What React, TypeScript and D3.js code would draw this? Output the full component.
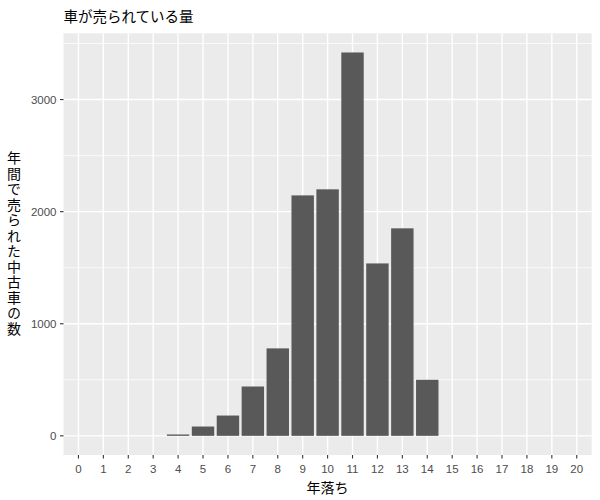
import React from 'react';
import * as d3 from 'd3';

const ages = [0, 1, 2, 3, 4, 5, 6, 7, 8, 9, 10, 11, 12, 13, 14, 15, 16, 17, 18, 19, 20];
const barAges = [4, 5, 6, 7, 8, 9, 10, 11, 12, 13, 14];
const barCounts = [12, 83, 181, 440, 780, 2145, 2199, 3420, 1538, 1851, 500];
const yTicks = [0, 1000, 2000, 3000];
const yMinor = [500, 1500, 2500, 3500];

const title = '車が売られている量';
const xTitle = '年落ち';
const yTitle = '年間で売られた中古車の数';

const W = 600;
const H = 500;
const panel = { left: 63.5, right: 591.7, top: 33.3, bottom: 455 };
const font = '"Liberation Sans", Arial, "Noto Sans CJK JP", sans-serif';
const jpFont = '"Noto Sans CJK JP", "Liberation Sans", sans-serif';

export default function App() {
  const maxVal = d3.max(barCounts) ?? 0;
  const x = d3
    .scaleLinear()
    .domain([-0.6, 20.6])
    .range([panel.left, panel.right]);
  const y = d3
    .scaleLinear()
    .domain([-maxVal * 0.05, maxVal * 1.05])
    .range([panel.bottom, panel.top]);
  const bw = x(0.45) - x(0);

  return (
    <svg
      width={W}
      height={H}
      style={{ position: 'absolute', left: 0, top: 0, background: '#fff' }}
    >
      <rect
        x={panel.left}
        y={panel.top}
        width={panel.right - panel.left}
        height={panel.bottom - panel.top}
        fill="#EBEBEB"
      />
      {yMinor.map((v) => (
        <line
          key={'m' + v}
          x1={panel.left}
          x2={panel.right}
          y1={y(v)}
          y2={y(v)}
          stroke="#fff"
          strokeWidth={0.7}
        />
      ))}
      {yTicks.map((v) => (
        <line
          key={'y' + v}
          x1={panel.left}
          x2={panel.right}
          y1={y(v)}
          y2={y(v)}
          stroke="#fff"
          strokeWidth={1.4}
        />
      ))}
      {ages.map((a) => (
        <line
          key={'x' + a}
          x1={x(a)}
          x2={x(a)}
          y1={panel.top}
          y2={panel.bottom}
          stroke="#fff"
          strokeWidth={1.4}
        />
      ))}
      {barAges.map((a, i) => (
        <rect
          key={'b' + a}
          x={x(a) - bw}
          width={bw * 2}
          y={y(barCounts[i])}
          height={y(0) - y(barCounts[i])}
          fill="#595959"
        />
      ))}
      {/* y axis */}
      {yTicks.map((v) => (
        <g key={'yt' + v}>
          <line
            x1={panel.left - 3.5}
            x2={panel.left}
            y1={y(v)}
            y2={y(v)}
            stroke="#333"
            strokeWidth={1.1}
          />
          <text
            x={panel.left - 7}
            y={y(v)}
            dy="0.35em"
            textAnchor="end"
            fontFamily={font}
            fontSize={11.5}
            fill="#4D4D4D"
          >
            {v}
          </text>
        </g>
      ))}
      {/* x axis */}
      {ages.map((a) => (
        <g key={'xt' + a}>
          <line
            x1={x(a)}
            x2={x(a)}
            y1={panel.bottom}
            y2={panel.bottom + 3.5}
            stroke="#333"
            strokeWidth={1.1}
          />
          <text
            x={x(a)}
            y={473}
            textAnchor="middle"
            fontFamily={font}
            fontSize={11.5}
            fill="#4D4D4D"
          >
            {a}
          </text>
        </g>
      ))}
      <text
        x={(panel.left + panel.right) / 2}
        y={493}
        textAnchor="middle"
        fontFamily={jpFont}
        fontSize={14}
        fill="#000"
      >
        {xTitle}
      </text>
      <text
        x={14}
        y={(panel.top + panel.bottom) / 2}
        textAnchor="middle"
        fontFamily={jpFont}
        fontSize={14}
        letterSpacing={1.5}
        fill="#000"
        style={{ writingMode: 'vertical-rl' }}
      >
        {yTitle}
      </text>
      <text
        x={panel.left}
        y={22}
        fontFamily={jpFont}
        fontSize={14.5}
        fill="#000"
      >
        {title}
      </text>
    </svg>
  );
}
